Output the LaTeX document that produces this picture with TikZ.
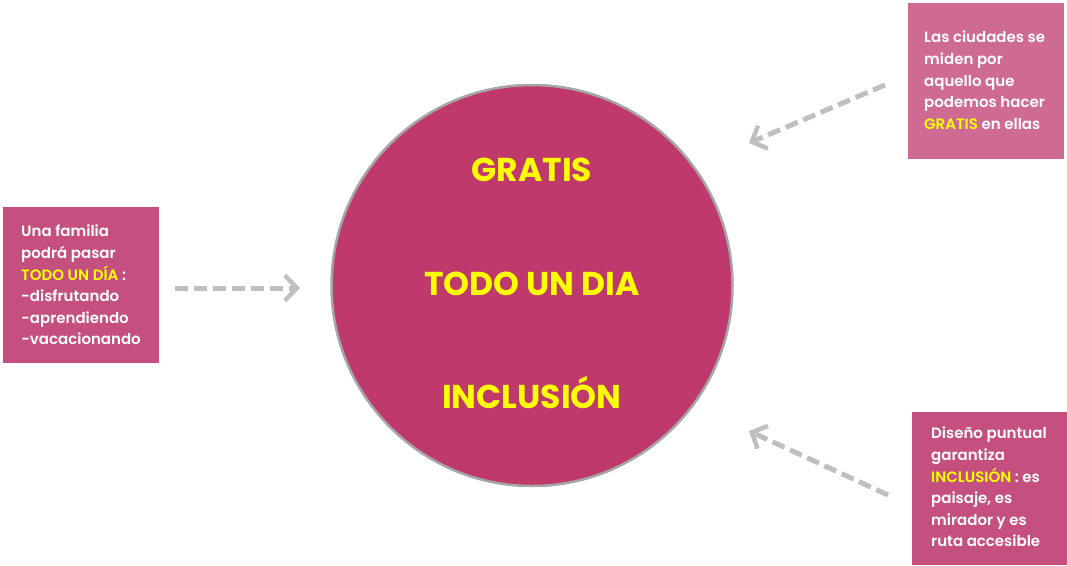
\documentclass[tikz,border=0pt]{standalone}
\usepackage{fontspec}
\setmainfont{Poppins}
\newfontfamily\semib{Poppins SemiBold}
\usetikzlibrary{arrows.meta}
\definecolor{circfill}{HTML}{C0396C}
\definecolor{boxA}{HTML}{C5507F}
\definecolor{boxB}{HTML}{CF6A93}
\definecolor{ylw}{HTML}{FFFF00}
\definecolor{arrgray}{HTML}{BFBFBF}
\definecolor{ringgray}{HTML}{A6A6A6}
\tikzset{
  x=1pt,y=-1pt,
  boxtext/.style={text=white,align=left,anchor=north west,inner sep=0pt,
    font=\fontsize{15}{21.6}\selectfont\semib},
  bigword/.style={text=ylw,font=\fontsize{33}{36}\selectfont\bfseries},
  conn/.style={draw=arrgray,line width=5pt,dash pattern=on 13pt off 6pt,
    -{Straight Barb[length=12pt,width=25pt,line width=4.5pt]}}
}
\newcommand{\hl}[1]{\textcolor{ylw}{#1}}
\begin{document}
\begin{tikzpicture}
\useasboundingbox (0,0) rectangle (1067,565);
% circle
\node[circle,fill=circfill,draw=ringgray,line width=2.5pt,minimum size=401pt,inner sep=0pt] (c) at (532,285.5) {};
\node[bigword] (g) at (532,170) {GRATIS};
\node[bigword] (t) at (532,284) {TODO UN DIA};
\node[bigword] (i) at (532,393) {INCLUSIÓN};
% boxes
\fill[boxA] (3,207) rectangle (159,363);
\node[boxtext] (lt) at (21,225) {Una familia\\podrá pasar\\\hl{TODO UN DÍA} :\\-disfrutando\\-aprendiendo\\-vacacionando};
\fill[boxB] (908,3) rectangle (1064,159);
\node[boxtext] (rt) at (924,31) {Las ciudades se\\miden por\\aquello que\\podemos hacer\\\hl{GRATIS} en ellas};
\fill[boxA] (912,412) rectangle (1067,565);
\node[boxtext] (rb) at (931,427) {Diseño puntual\\garantiza\\\hl{INCLUSIÓN} : es\\paisaje, es\\mirador y es\\ruta accesible};
% connectors
\coordinate (a1s) at (175,288);
\coordinate (a1e) at (300,288);
\coordinate (a2s) at (885,85);
\coordinate (a2e) at (749,143);
\coordinate (a3s) at (888,495);
\coordinate (a3e) at (749,431);
\draw[conn] (a1s) -- (a1e);
\draw[conn] (a2s) -- (a2e);
\draw[conn] (a3s) -- (a3e);
\end{tikzpicture}
\end{document}
